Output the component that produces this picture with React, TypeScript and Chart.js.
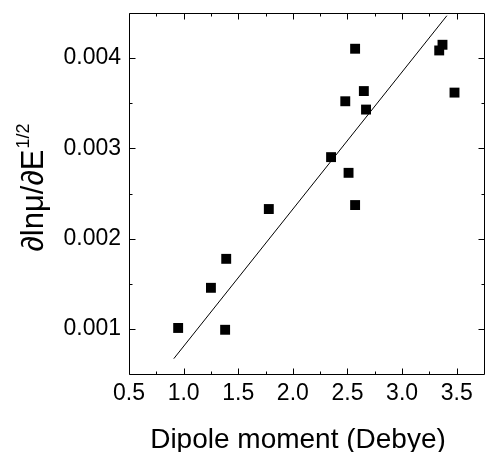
import React, { useEffect, useRef } from "react";
import { Chart, registerables } from "chart.js";

Chart.register(...registerables);

// Data
const dipoleMoment = [0.95, 1.25, 1.39, 1.38, 1.78, 2.35, 2.48, 2.51, 2.57, 2.57, 2.65, 2.67, 3.34, 3.37, 3.48];
const dlnMuDE = [0.00101, 0.001455, 0.001776, 0.00099, 0.002328, 0.002903, 0.003522, 0.002729, 0.002372, 0.004104, 0.003635, 0.00343, 0.004085, 0.004148, 0.003618];
const fitX = [0.91, 3.41];
const fitY = [0.00067, 0.00447];

const xMajorTicks = [0.5, 1.0, 1.5, 2.0, 2.5, 3.0, 3.5];
const xMinorTicks = [0.75, 1.25, 1.75, 2.25, 2.75, 3.25];
const yMajorTicks = [0.001, 0.002, 0.003, 0.004];
const yMinorTicks = [0.0015, 0.0025, 0.0035];

const X_MIN = 0.5;
const X_MAX = 3.75;
const Y_MIN = 0.0005;
const Y_MAX = 0.0045;

const FONT = "'Liberation Sans', Arial, Helvetica, sans-serif";

const framePlugin = {
  id: "frameTicks",
  afterDatasetsDraw(chart: any) {
    const { ctx, chartArea: a, scales } = chart;
    const xs = scales.x;
    const ys = scales.y;
    const L = Math.round(a.left) + 0.5;
    const R = Math.round(a.right) + 0.5;
    const T = Math.round(a.top) + 0.5;
    const B = Math.round(a.bottom) + 0.5;
    ctx.save();
    ctx.strokeStyle = "#000";
    ctx.lineWidth = 1;
    ctx.beginPath();
    ctx.moveTo(L, T);
    ctx.lineTo(R, T);
    ctx.lineTo(R, B);
    ctx.lineTo(L, B);
    ctx.closePath();
    const major = 6;
    const minor = 3;
    const xTick = (v: number, len: number) => {
      const px = Math.round(xs.getPixelForValue(v)) + 0.5;
      ctx.moveTo(px, B);
      ctx.lineTo(px, B - len);
      ctx.moveTo(px, T);
      ctx.lineTo(px, T + len);
    };
    const yTick = (v: number, len: number) => {
      const py = Math.round(ys.getPixelForValue(v)) + 0.5;
      ctx.moveTo(L, py);
      ctx.lineTo(L + len, py);
      ctx.moveTo(R, py);
      ctx.lineTo(R - len, py);
    };
    xMajorTicks.forEach((v) => xTick(v, major));
    xMinorTicks.forEach((v) => xTick(v, minor));
    yMajorTicks.forEach((v) => yTick(v, major));
    yMinorTicks.forEach((v) => yTick(v, minor));
    ctx.stroke();
    ctx.restore();
  },
  afterDraw(chart: any) {
    const { ctx } = chart;
    ctx.save();
    ctx.fillStyle = "#000";
    // X title
    ctx.font = `28px ${FONT}`;
    ctx.textAlign = "center";
    ctx.textBaseline = "alphabetic";
    ctx.fillText("Dipole moment (Debye)", 298, 448);
    // Y title with superscript
    const main = "\u2202ln\u03bc/\u2202E";
    const sup = "1/2";
    ctx.font = `31px ${FONT}`;
    const wMain = ctx.measureText(main).width;
    ctx.font = `18px ${FONT}`;
    const wSup = ctx.measureText(sup).width;
    const total = wMain + wSup;
    const cy = 188;
    ctx.translate(43, cy);
    ctx.rotate(-Math.PI / 2);
    ctx.textAlign = "left";
    ctx.font = `31px ${FONT}`;
    ctx.fillText(main, -total / 2, 0);
    ctx.font = `18px ${FONT}`;
    ctx.fillText(sup, -total / 2 + wMain + 1, -14);
    ctx.restore();
  },
};

export default function App() {
  const ref = useRef<HTMLCanvasElement | null>(null);
  useEffect(() => {
    if (!ref.current) return;
    const points = dipoleMoment.map((x, i) => ({ x, y: dlnMuDE[i] }));
    const fit = fitX.map((x, i) => ({ x, y: fitY[i] }));
    const chart = new Chart(ref.current, {
      type: "scatter",
      data: {
        datasets: [
          {
            data: fit,
            showLine: true,
            borderColor: "#000",
            borderWidth: 1,
            pointRadius: 0,
            fill: false,
          } as any,
          {
            data: points,
            pointStyle: "rect",
            pointRadius: 7,
            backgroundColor: "#000",
            borderWidth: 0,
          } as any,
        ],
      },
      options: {
        animation: false,
        responsive: false,
        devicePixelRatio: 1,
        events: [],
        layout: { padding: { top: 13, right: 0, left: 0, bottom: 0 } },
        plugins: { legend: { display: false }, tooltip: { enabled: false } },
        scales: {
          x: {
            type: "linear",
            min: X_MIN,
            max: X_MAX,
            border: { display: false },
            grid: { display: false, drawTicks: false },
            afterBuildTicks: (s: any) => {
              s.ticks = xMajorTicks.map((v) => ({ value: v }));
            },
            afterFit: (s: any) => {
              s.height = 78;
              s.paddingLeft = 0;
              s.paddingRight = 0;
            },
            ticks: {
              padding: 6,
              color: "#000",
              font: { family: FONT, size: 23 },
              maxRotation: 0,
              autoSkip: false,
              callback: (v: any) => Number(v).toFixed(1),
            },
          },
          y: {
            type: "linear",
            min: Y_MIN,
            max: Y_MAX,
            border: { display: false },
            grid: { display: false, drawTicks: false },
            afterBuildTicks: (s: any) => {
              s.ticks = yMajorTicks.map((v) => ({ value: v }));
            },
            afterFit: (s: any) => {
              s.width = 129;
              s.paddingTop = 0;
              s.paddingBottom = 0;
            },
            ticks: {
              padding: 8,
              color: "#000",
              font: { family: FONT, size: 23 },
              autoSkip: false,
              callback: (v: any) => Number(v).toFixed(3),
            },
          },
        },
      },
      plugins: [framePlugin],
    });
    return () => chart.destroy();
  }, []);
  return (
    <div style={{ position: "fixed", left: 0, top: 0, width: 491, height: 452, background: "#fff" }}>
      <canvas ref={ref} width={491} height={452} style={{ display: "block" }} />
    </div>
  );
}
